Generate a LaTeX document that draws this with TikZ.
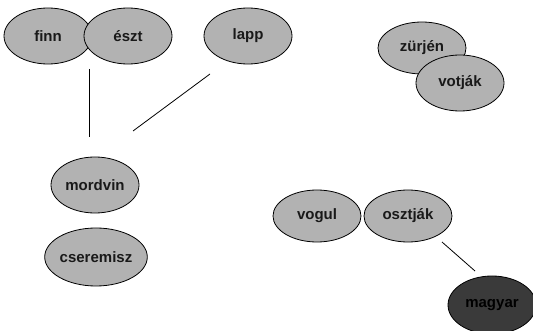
\documentclass[tikz,border=0pt]{standalone}
\usepackage{fontspec}
\setmainfont{Liberation Sans}[BoldFont={Liberation Sans Bold}]
\usetikzlibrary{shapes.geometric}
\definecolor{lightfill}{HTML}{B2B2B2}
\definecolor{darkfill}{HTML}{3A3A3A}
\tikzset{
  lang/.style={ellipse, draw=black, line width=0.8pt, fill=lightfill, minimum width=88pt, minimum height=56pt, inner sep=0pt, font=\fontsize{15}{18}\selectfont\bfseries, text=black!90},
  langdark/.style={lang, fill=darkfill, text=black},
  link/.style={draw=black, line width=0.8pt}
}
\begin{document}
\begin{tikzpicture}[x=1pt, y=-1pt]
\useasboundingbox (0,0) rectangle (533,331);
\node[lang] (finn) at (48,36) {finn};
\node[lang] (eszt) at (128,36) {észt};
\node[lang] (lapp) at (248,36) {lapp};
\node[lang, minimum height=52pt] (zurjen) at (422,48) {zürjén};
\node[lang] (votjak) at (460,83) {votják};
\node[lang] (mordvin) at (95,185) {mordvin};
\node[lang, minimum height=58pt] (cseremisz) at (96,257) {cseremisz};
\node[lang, minimum height=52pt] (vogul) at (317,216) {vogul};
\node[lang, minimum height=52pt] (osztjak) at (408,216) {osztják};
\node[langdark, minimum height=58pt] (magyar) at (492,305) {magyar};
\coordinate (l1a) at (89,69);
\coordinate (l1b) at (89,137);
\coordinate (l2a) at (210,74);
\coordinate (l2b) at (133,131);
\coordinate (l3a) at (442,242);
\coordinate (l3b) at (475,271);
\draw[link] (l1a) -- (l1b);
\draw[link] (l2a) -- (l2b);
\draw[link] (l3a) -- (l3b);
\end{tikzpicture}
\end{document}
